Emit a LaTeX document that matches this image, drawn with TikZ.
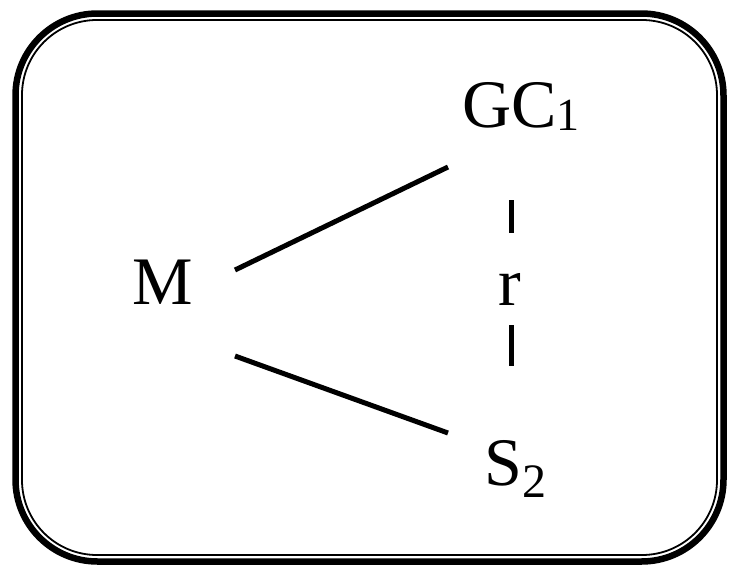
\documentclass[tikz,border=0pt]{standalone}
\usepackage{fontspec}
\setmainfont{Liberation Serif}
\begin{document}
\begin{tikzpicture}[x=1pt,y=-1pt,
  lbl/.style={inner sep=0pt,font=\fontsize{68}{72}\selectfont},
  link/.style={line width=5pt},
  sub/.style={font=\fontsize{46}{48}\selectfont}]
\useasboundingbox (0,0) rectangle (729,568);
% double rounded frame
\draw[line width=6.5pt,rounded corners=82pt] (15.5,13.5) rectangle (723.5,561.5);
\draw[line width=1.8pt,rounded corners=75pt] (22,20) rectangle (717,555);
% labels
\node[lbl,anchor=base west] (M) at (132,304) {M};
\node[lbl,anchor=base west] (GC) at (462,127) {GC\raisebox{-3pt}{\fontsize{46}{48}\selectfont 1}};
\node[lbl,anchor=base west] (S) at (484,485) {S\raisebox{-12pt}{\fontsize{48}{48}\selectfont 2}};
\node[lbl,anchor=base] (r) at (510,305) {r};
% connector end points
\coordinate (m1) at (235,270);
\coordinate (g1) at (448,167);
\coordinate (m2) at (235,356);
\coordinate (s1) at (448,433);
\coordinate (d1) at (511,200);
\coordinate (d2) at (511,233);
\coordinate (d3) at (511,325);
\coordinate (d4) at (511,366);
\draw[link] (m1) -- (g1);
\draw[link] (m2) -- (s1);
\draw[link] (d1) -- (d2);
\draw[link] (d3) -- (d4);
\end{tikzpicture}
\end{document}
